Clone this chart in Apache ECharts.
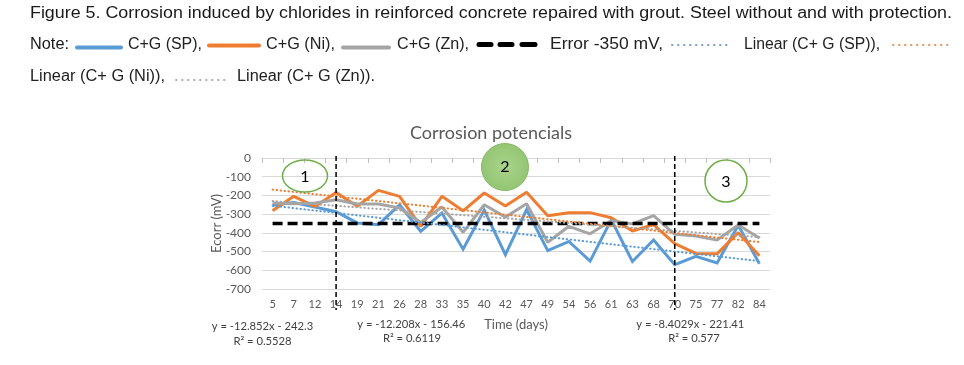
<!DOCTYPE html>
<html><head><meta charset="utf-8">
<script src="https://cdn.jsdelivr.net/npm/echarts@6/dist/echarts.min.js"></script>
<style>html,body{margin:0;padding:0;background:#fff}#c{width:964px;height:365px}</style>
</head><body><div id="c"></div>
<script>
// ---- data ----
const days = ['5','7','12','14','19','21','26','28','33','35','40','42','47','49','54','56','61','63','68','70','75','77','82','84'];
const cgSP = [-252,-238,-262,-287,-347,-356,-250,-392,-294,-487,-278,-517,-276,-495,-446,-551,-330,-553,-438,-570,-526,-561,-360,-565];
const cgNi = [-282,-205,-259,-184,-258,-173,-205,-365,-205,-282,-187,-257,-183,-308,-292,-292,-319,-390,-356,-457,-510,-512,-399,-522];
const cgZn = [-240,-244,-240,-223,-246,-246,-267,-345,-262,-397,-250,-316,-244,-450,-365,-405,-335,-352,-308,-408,-417,-438,-358,-428];
const errorLevel = -350;
const trendSP = [-255,-551];
const trendNi = [-169,-449];
const trendZn = [-230,-423];
const dividerDays = ['14','70'];
const yMin = -700, yMax = 0, yStep = 100;

const C_BLUE='#5b9bd5', C_ORANGE='#ed7d31', C_GREY='#a5a5a5';
const chart = echarts.init(document.getElementById('c'), null, {renderer:'canvas'});
const FONT = 'Lato, "Open Sans", sans-serif';

function trendData(t){ return [[days[0], t[0]], [days[days.length-1], t[1]]]; }
function trendSeries(name, t, color){
  return {name, type:'line', data:trendData(t), symbol:'none', silent:true, z:4,
    lineStyle:{color, width:2, type:[0.5,3.5], cap:'round'}};
}

chart.setOption({
  animation:false,
  backgroundColor:'#fff',
  title:{text:'Corrosion potencials', left:486, top:119, textAlign:'center',
    textStyle:{fontFamily:FONT, fontSize:18, fontWeight:'normal', color:'#595959'}},
  grid:{left:262, right:194, top:158, bottom:76, containLabel:false},
  xAxis:{type:'category', data:days, boundaryGap:true,
    axisLine:{lineStyle:{color:'#d9d9d9', width:1}},
    axisTick:{show:true, length:5, lineStyle:{color:'#bfbfbf'}},
    axisLabel:{fontFamily:FONT, fontSize:11, color:'#595959', margin:10, interval:0},
    name:'Time (days)', nameLocation:'middle', nameGap:29, nameMoveOverlap:false,
    nameTextStyle:{fontFamily:FONT, fontSize:13, color:'#595959'}},
  yAxis:{type:'value', min:yMin, max:yMax, interval:yStep,
    axisLine:{show:false}, axisTick:{show:false},
    splitLine:{lineStyle:{color:'#d9d9d9', width:1}},
    axisLabel:{fontFamily:FONT, fontSize:12, color:'#595959', margin:11},
    name:'Ecorr (mV)', nameLocation:'middle', nameGap:39, nameRotate:90, nameMoveOverlap:false,
    nameTextStyle:{fontFamily:FONT, fontSize:13, color:'#595959'}},
  series:[
    {name:'C+G (SP)', type:'line', data:cgSP, symbol:'none', z:2, lineStyle:{color:C_BLUE, width:3, join:'miter'}},
    {name:'C+G (Ni)', type:'line', data:cgNi, symbol:'none', z:2, lineStyle:{color:C_ORANGE, width:3}},
    {name:'C+G (Zn)', type:'line', data:cgZn, symbol:'none', z:2, lineStyle:{color:C_GREY, width:3}},
    {name:'Error -350 mV', type:'line', data:days.map(()=>errorLevel), symbol:'none', z:3,
      lineStyle:{color:'#000', width:3.5, type:[10,5]}},
    trendSeries('Linear (C+ G (SP))', trendSP, C_BLUE),
    trendSeries('Linear (C+ G (Ni))', trendNi, C_ORANGE),
    trendSeries('Linear (C+ G (Zn))', trendZn, C_GREY)
  ]
});

// ---- annotations / header ----
const ctx = document.createElement('canvas').getContext('2d');
function measure(t, font){ ctx.font = font; return ctx.measureText(t).width; }
const HFONT_FAMILY = '"Liberation Sans Narrow", "Liberation Sans", Arial, sans-serif';
function hText(t, x0, x1, yc, color){
  const font = '16px ' + HFONT_FAMILY;
  const w = measure(t, font);
  return {type:'text', x:x0, y:yc, scaleX:(x1-x0)/w, z:10,
    style:{text:t, fontSize:16, fontFamily:HFONT_FAMILY, fill:color||'#222',
      align:'left', verticalAlign:'middle', textAlign:'left', textVerticalAlign:'middle'}};
}
const EQ_SIZE = 12*101.6/measure('y = -12.852x - 242.3', '12px ' + FONT);
function eqText(t, xc, yc){
  return {type:'text', x:xc, y:yc, z:10,
    style:{text:t, fontSize:EQ_SIZE, fontFamily:FONT, fill:'#404040',
      align:'center', verticalAlign:'middle', textAlign:'center', textVerticalAlign:'middle'}};
}
function seg(x1,y1,x2,y2,stroke,width,dash,cap){
  return {type:'line', z:10, shape:{x1,y1,x2,y2},
    style:{stroke, lineWidth:width, lineDash:dash||null, lineCap:cap||'round'}};
}

const g = [];
// header line 1
g.push(hText('Figure 5. Corrosion induced by chlorides in reinforced concrete repaired with grout. Steel without and with protection.', 30, 952, 14, '#1a1a1a'));
// header line 2
g.push(hText('Note:', 30, 69, 45, '#1a1a1a'));
g.push(seg(77,47.5,121,47.5,C_BLUE,4));
g.push(hText('C+G (SP),', 128, 202, 45));
g.push(seg(209,45.5,259,45.5,C_ORANGE,4));
g.push(hText('C+G (Ni),', 266, 335, 45));
g.push(seg(343,47.5,389,47.5,C_GREY,4));
g.push(hText('C+G (Zn),', 397, 469, 45));
g.push(seg(479,44.5,491,44.5,'#000',5));
g.push(seg(500,44.5,512,44.5,'#000',5));
g.push(seg(522,44.5,535,44.5,'#000',5));
g.push(hText('Error -350 mV,', 550, 663, 45));
g.push(seg(672,45,731,45,'#7f9fbf',2,[0.5,5.5]));
g.push(hText('Linear (C+ G (SP)),', 744, 880, 45));
g.push(seg(893,45,948,45,'#e8935a',2,[0.5,5.5]));
// header line 3
g.push(hText('Linear (C+ G (Ni)),', 30, 165, 77));
g.push(seg(176,80,226,80,'#b0b0b0',2,[0.5,5.5]));
g.push(hText('Linear (C+ G (Zn)).', 237, 375, 77));

// dividers at 14 and 70 days
const yTop = chart.convertToPixel({yAxisIndex:0}, yMax);
const yBot = chart.convertToPixel({yAxisIndex:0}, yMin);
dividerDays.forEach(d=>{
  const x = chart.convertToPixel({xAxisIndex:0}, d);
  g.push({type:'line', z:5, shape:{x1:x, y1:yTop-2, x2:x, y2:yBot+21},
    style:{stroke:'#000', lineWidth:1.5, lineDash:[5,3]}});
});

// zone circles
g.push({type:'ellipse', z:6, shape:{cx:305, cy:176, rx:22.5, ry:16}, style:{fill:'rgba(255,255,255,0)', stroke:'#70ad47', lineWidth:1.5}});
g.push({type:'text', z:7, x:305, y:177, style:{text:'1', fontSize:16, fontFamily:FONT, fill:'#000', align:'center', verticalAlign:'middle', textAlign:'center', textVerticalAlign:'middle'}});
g.push({type:'circle', z:6, shape:{cx:505, cy:167, r:23.5}, style:{fill:{type:'radial', x:0.5, y:0.5, r:0.5, colorStops:[{offset:0,color:'#a9d48c'},{offset:1,color:'#93c572'}]}, stroke:'#86b967', lineWidth:1}});
g.push({type:'text', z:7, x:505, y:167, style:{text:'2', fontSize:16, fontFamily:FONT, fill:'#000', align:'center', verticalAlign:'middle', textAlign:'center', textVerticalAlign:'middle'}});
g.push({type:'circle', z:6, shape:{cx:726, cy:181, r:21}, style:{fill:'#fff', stroke:'#70ad47', lineWidth:1.5}});
g.push({type:'text', z:7, x:726, y:182, style:{text:'3', fontSize:16, fontFamily:FONT, fill:'#000', align:'center', verticalAlign:'middle', textAlign:'center', textVerticalAlign:'middle'}});

// trendline equations
g.push(eqText('y = -12.852x - 242.3', 262.5, 326));
g.push(eqText('R² = 0.5528', 262.5, 341));
g.push(eqText('y = -12.208x - 156.46', 411.3, 324));
g.push(eqText('R² = 0.6119', 412, 338));
g.push(eqText('y = -8.4029x - 221.41', 690.3, 324));
g.push(eqText('R² = 0.577', 694, 338));

chart.setOption({graphic:g});
</script></body></html>
